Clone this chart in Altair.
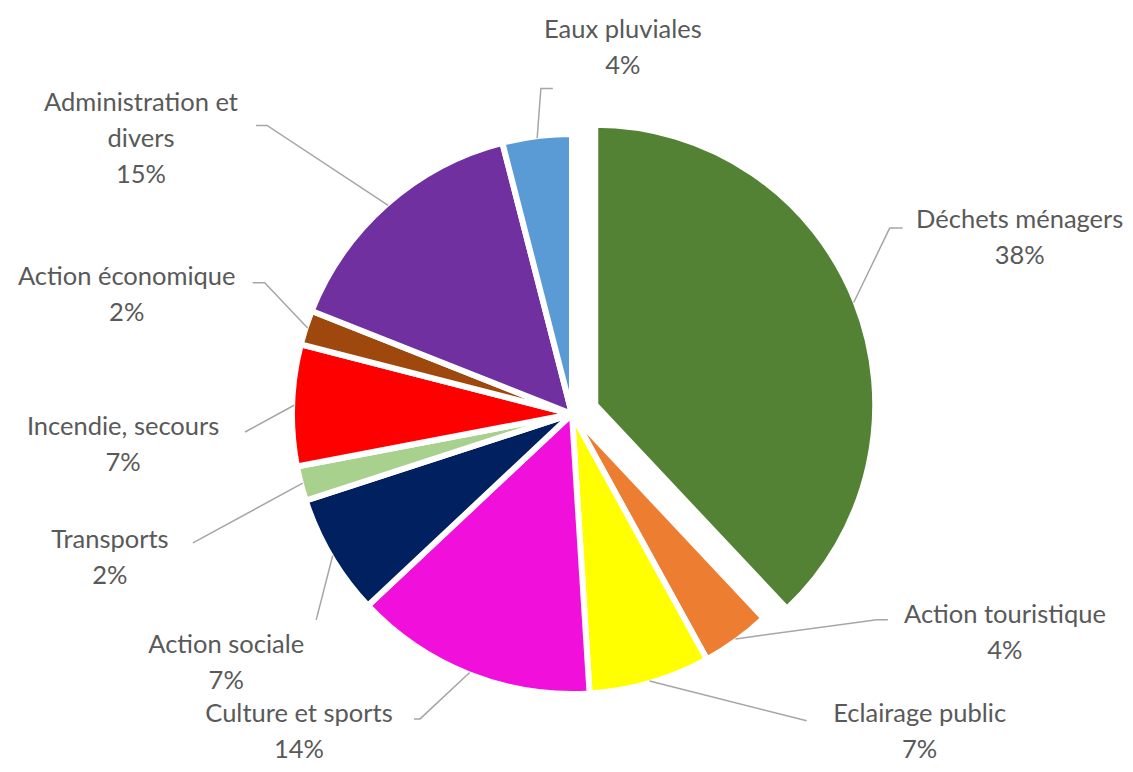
import math
import altair as alt
import pandas as pd

# ---------------- data ----------------
categories = ["Déchets ménagers", "Action touristique", "Eclairage public", "Culture et sports",
              "Action sociale", "Transports", "Incendie, secours", "Action économique",
              "Administration et divers", "Eaux pluviales"]
shares = [38, 4, 7, 14, 7, 2, 7, 2, 15, 4]
label_names = ["Déchets ménagers", "Action touristique", "Eclairage public", "Culture et sports",
               "Action sociale", "Transports", "Incendie, secours", "Action économique",
               "Administration et\ndivers", "Eaux pluviales"]
colors = ["#548235", "#ED7D31", "#FFFF00", "#F10FDB", "#002060",
          "#A9D18E", "#FF0000", "#9E480E", "#7030A0", "#5B9BD5"]

# ---------------- layout (style only) ----------------
W, H = 1117, 756
CX, CY = 564, 406          # pie centre in the plot
R_OUT = 280
LINE_H = 36
explode = [25, 0, 0, 0, 0, 0, 0, 0, 0, 0]
# label block: (angle nudge from slice middle in degrees, distance from centre in px)
label_polar = [(0.15, 481), (-27.2, 485), (-31.37, 471), (19.05, 419), (-5.14, 426),
               (-2.9, 484), (-5.75, 450), (-3.0, 461), (-16.1, 511), (15.1, 370)]
# leader line: elbow and end offsets from label block centre
leader_offsets = [((-130, -10), (-117, -10)), ((-128, -13), (-117, -13)), (None, (-113, -11)),
                  ((121, -13), (115, -13)), (None, (90, -43)), (None, (83, -15)),
                  (None, (122, -13)), ((138, -12), (126, -12)), ((126, -14), (115, -14)),
                  ((-82, 41), (-70, 41))]

# ---------------- derived tables ----------------
total = sum(shares)
cum = 0.0
slice_cx, slice_cy, mids = [], [], []
for v, e in zip(shares, explode):
    mid = (cum + v / 2) / total * 2 * math.pi
    cum += v
    mids.append(mid)
    slice_cx.append(CX + e * math.sin(mid))
    slice_cy.append(CY - e * math.cos(mid))

df = pd.DataFrame({
    "category": categories,
    "share": shares,
    "order": list(range(len(categories))),
    "cx": slice_cx,
    "cy": slice_cy,
})

lab_rows, lead_rows = [], []
for i, cat in enumerate(categories):
    nudge, r = label_polar[i]
    a = mids[i] + math.radians(nudge)
    lx = CX + r * math.sin(a)
    ly = CY - r * math.cos(a)
    text = f"{label_names[i]}\n{shares[i]}%"
    n_lines = text.count("\n") + 1
    # first line position so that the whole block is centred on (lx, ly)
    lab_rows.append({"category": cat, "x": lx, "y": ly - (n_lines - 1) * LINE_H / 2,
                     "label": text})
    sx = slice_cx[i] + (R_OUT - 2) * math.sin(mids[i])
    sy = slice_cy[i] - (R_OUT - 2) * math.cos(mids[i])
    pts = [(sx, sy)]
    elbow, end = leader_offsets[i]
    if elbow is not None:
        pts.append((lx + elbow[0], ly + elbow[1]))
    pts.append((lx + end[0], ly + end[1]))
    for k, (px, py) in enumerate(pts):
        lead_rows.append({"category": cat, "x": px, "y": py, "idx": k})

labels_df = pd.DataFrame(lab_rows)
leaders_df = pd.DataFrame(lead_rows)

# ---------------- chart ----------------
pie = alt.Chart(df).mark_arc(outerRadius=R_OUT, stroke="white", strokeWidth=6).encode(
    theta=alt.Theta("share:Q", stack=True),
    order=alt.Order("order:Q", sort="ascending"),
    color=alt.Color("category:N", scale=alt.Scale(domain=categories, range=colors), legend=None),
    x=alt.X("cx:Q", scale=None, axis=None),
    y=alt.Y("cy:Q", scale=None, axis=None),
)

leaders = alt.Chart(leaders_df).mark_line(color="#A6A6A6", strokeWidth=1.5).encode(
    x=alt.X("x:Q", scale=None, axis=None),
    y=alt.Y("y:Q", scale=None, axis=None),
    detail="category:N",
    order="idx:Q",
)

texts = alt.Chart(labels_df).mark_text(
    font="Lato", fontSize=25.5, color="#595959", align="center", baseline="middle",
    lineBreak="\n", lineHeight=LINE_H,
).encode(
    x=alt.X("x:Q", scale=None, axis=None),
    y=alt.Y("y:Q", scale=None, axis=None),
    text="label:N",
)

chart = alt.layer(pie, leaders, texts).properties(
    width=W, height=H, padding=0,
    autosize=alt.AutoSizeParams(type="none"),
).configure_view(stroke=None)

chart.save("out.html", embed_options={"renderer": "svg", "actions": False})
